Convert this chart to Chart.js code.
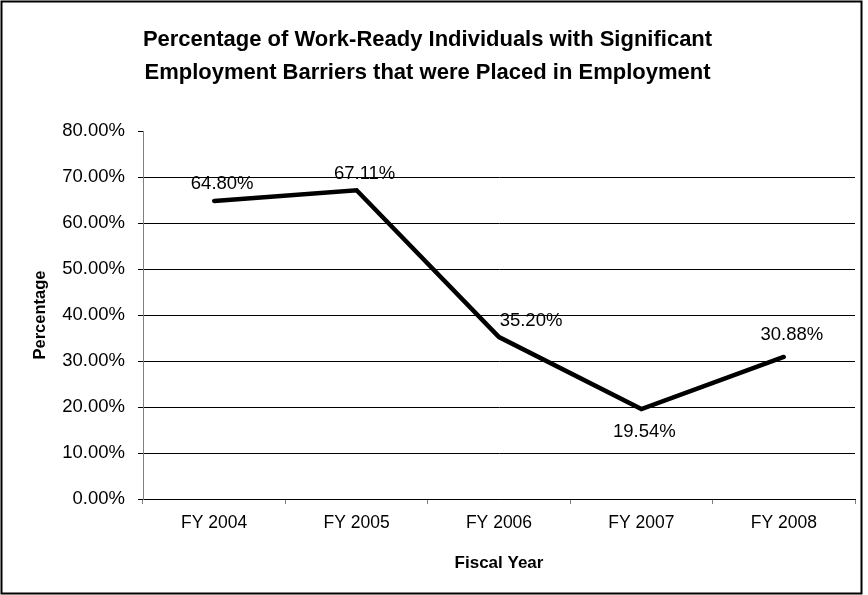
<!DOCTYPE html>
<html>
<head>
<meta charset="utf-8">
<title>Work-Ready Individuals Placed in Employment</title>
<script src="https://cdn.jsdelivr.net/npm/chart.js@4/dist/chart.umd.min.js"></script>
<style>
  html, body { margin: 0; padding: 0; background: #fff; }
  #wrap { width: 868px; height: 595px; }
</style>
</head>
<body>
<div id="wrap"><canvas id="chart" width="868" height="595"></canvas></div>
<script>
// Fiscal years and placement rates (percent)
const fiscalYears = ['FY 2004', 'FY 2005', 'FY 2006', 'FY 2007', 'FY 2008'];
const placementRates = [64.80, 67.11, 35.20, 19.54, 30.88];
const yTickValues = [0, 10, 20, 30, 40, 50, 60, 70, 80];

const FONT = '"Liberation Sans", Arial, Helvetica, sans-serif';

// Where each value label sits relative to its point (pixels)
const labelShift = [
  { dx: 8, dy: -17 },
  { dx: 8, dy: -16 },
  { dx: 32, dy: -16 },
  { dx: 3, dy: 23 },
  { dx: 8, dy: -22 }
];

// Outer chart frame
const framePlugin = {
  id: 'frame',
  beforeDraw(chart) {
    const c = chart.ctx;
    c.save();
    c.fillStyle = '#fff';
    c.fillRect(0, 0, chart.width, chart.height);
    c.strokeStyle = '#000';
    c.lineWidth = 2;
    c.strokeRect(1.5, 1.5, 860, 592);
    c.restore();
  }
};

// Value labels next to each point
const valueLabels = {
  id: 'valueLabels',
  afterDatasetsDraw(chart) {
    const c = chart.ctx;
    const meta = chart.getDatasetMeta(0);
    c.save();
    c.font = '18.5px ' + FONT;
    c.fillStyle = '#000';
    c.textAlign = 'center';
    c.textBaseline = 'middle';
    meta.data.forEach((pt, i) => {
      const v = chart.data.datasets[0].data[i];
      const s = labelShift[i];
      c.fillText(v.toFixed(2) + '%', pt.x + s.dx, pt.y + s.dy);
    });
    c.restore();
  }
};

new Chart(document.getElementById('chart'), {
  type: 'line',
  data: {
    labels: fiscalYears,
    datasets: [{
      data: placementRates,
      borderColor: '#000',
      borderWidth: 4.5,
      borderCapStyle: 'round',
      pointRadius: 0,
      pointHoverRadius: 0,
      tension: 0,
      fill: false
    }]
  },
  options: {
    responsive: false,
    animation: false,
    events: [],
    layout: { padding: { left: 0, right: 13, top: 0, bottom: 0 } },
    plugins: {
      legend: { display: false },
      tooltip: { enabled: false },
      title: {
        display: true,
        text: ['Percentage of Work-Ready Individuals with Significant',
               'Employment Barriers that were Placed in Employment'],
        color: '#000',
        font: { family: FONT, size: 22, weight: 'bold', lineHeight: 1.5 },
        padding: { top: 23, bottom: 42 }
      }
    },
    scales: {
      x: {
        type: 'category',
        offset: true,
        grid: {
          offset: true,
          drawOnChartArea: false,
          drawTicks: true,
          tickLength: 5,
          color: '#808080',
          tickColor: '#808080'
        },
        border: { display: true, color: '#000', width: 1 },
        ticks: {
          color: '#000',
          padding: 9,
          maxRotation: 0,
          autoSkip: false,
          font: { family: FONT, size: 17.5 }
        },
        title: {
          display: true,
          text: 'Fiscal Year',
          color: '#000',
          font: { family: FONT, size: 17, weight: 'bold' },
          padding: { top: 4, bottom: 21 }
        },
        afterFit(scale) { scale.height = 96; }
      },
      y: {
        min: 0,
        max: 80,
        afterBuildTicks(scale) {
          scale.ticks = yTickValues.map(v => ({ value: v }));
        },
        grid: {
          color: (ctx) => (ctx.tick && ctx.tick.value === 80) ? 'rgba(0,0,0,0)' : '#000',
          tickColor: '#000',
          lineWidth: 1,
          tickLength: 5
        },
        border: { display: true, color: '#808080', width: 1 },
        ticks: {
          color: '#000',
          padding: 13,
          font: { family: FONT, size: 18.5 },
          callback: (v) => Number(v).toFixed(2) + '%'
        },
        title: {
          display: true,
          text: 'Percentage',
          color: '#000',
          font: { family: FONT, size: 16.5, weight: 'bold' },
          padding: { top: 31, bottom: 0 }
        },
        afterFit(scale) { scale.width = 143; }
      }
    }
  },
  plugins: [framePlugin, valueLabels]
});
</script>
</body>
</html>
